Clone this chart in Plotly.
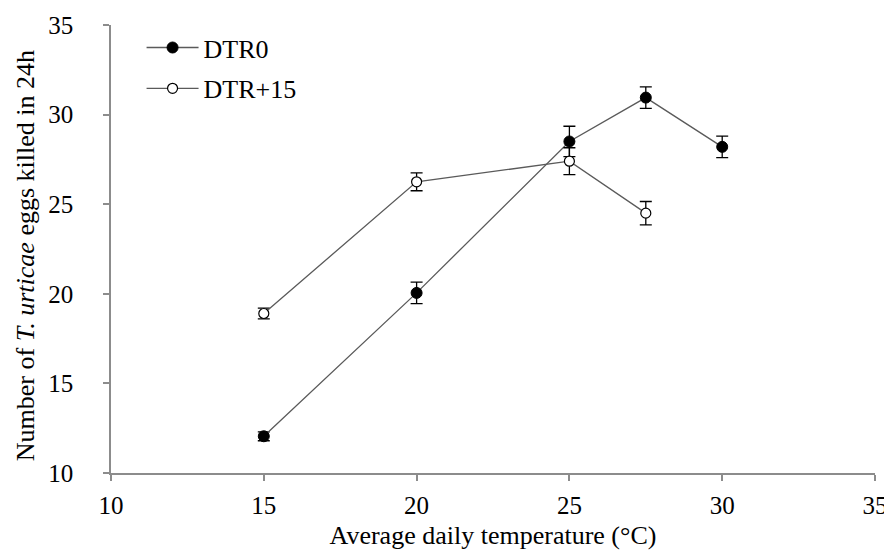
import plotly.graph_objects as go

temps_dtr0 = [15, 20, 25, 27.5, 30]
eggs_dtr0 = [12.05, 20.05, 28.5, 30.95, 28.2]
err_dtr0 = [0.25, 0.6, 0.85, 0.6, 0.6]

temps_dtr15 = [15, 20, 25, 27.5]
eggs_dtr15 = [18.9, 26.25, 27.4, 24.5]
err_dtr15 = [0.3, 0.5, 0.75, 0.65]

x_ticks = [10, 15, 20, 25, 30, 35]
y_ticks = [10, 15, 20, 25, 30, 35]

FONT = "Liberation Serif, Times New Roman, serif"
LINE_COLOR = "#5a5a5a"
AXIS_COLOR = "#8c8c8c"

fig = go.Figure()
fig.add_trace(go.Scatter(
    x=temps_dtr0, y=eggs_dtr0, name="DTR0", legendgroup="a",
    mode="lines+markers",
    line=dict(color=LINE_COLOR, width=1.3),
    marker=dict(symbol="circle", size=11, color="black", line=dict(color="black", width=1)),
    error_y=dict(type="data", array=err_dtr0, visible=True, color="black", thickness=1.3, width=6),
))
fig.add_trace(go.Scatter(
    x=temps_dtr15, y=eggs_dtr15, name="DTR+15", legendgroup="b",
    mode="lines+markers",
    line=dict(color=LINE_COLOR, width=1.3),
    marker=dict(symbol="circle", size=10, color="white", line=dict(color="black", width=1.2)),
    error_y=dict(type="data", array=err_dtr15, visible=True, color="black", thickness=1.3, width=6),
))

# page body has an 8px margin, so the figure is drawn 8px in from the top-left corner
fig.update_layout(
    width=884, height=542,
    margin=dict(l=103, r=17, t=17, b=77),
    paper_bgcolor="white", plot_bgcolor="white",
    font=dict(family=FONT, size=25, color="black"),
    showlegend=True,
    legend=dict(
        x=0.04, y=1.002, xanchor="left", yanchor="top",
        bgcolor="rgba(0,0,0,0)", itemwidth=52,
        traceorder="grouped", tracegroupgap=4,
        font=dict(family=FONT, size=26, color="black"),
    ),
    xaxis=dict(
        range=[10, 35], tickvals=x_ticks, ticktext=[str(v) for v in x_ticks],
        showgrid=False, zeroline=False, automargin=False,
        showline=True, linecolor=AXIS_COLOR, linewidth=1.5,
        ticks="outside", ticklen=6, tickcolor=AXIS_COLOR, tickwidth=1.5,
        tickfont=dict(family=FONT, size=25, color="black"),
        ticklabelstandoff=3,
        title=dict(text="Average daily temperature (°C)", font=dict(family=FONT, size=26), standoff=10),
    ),
    yaxis=dict(
        range=[10, 35], tickvals=y_ticks, ticktext=[str(v) for v in y_ticks],
        showgrid=False, zeroline=False, automargin=False,
        showline=True, linecolor=AXIS_COLOR, linewidth=1.5,
        ticks="outside", ticklen=6, tickcolor=AXIS_COLOR, tickwidth=1.5,
        tickfont=dict(family=FONT, size=25, color="black"),
        ticklabelstandoff=25,
    ),
    annotations=[dict(
        text="Number of <i>T. urticae</i> eggs killed in 24h",
        textangle=-90, xref="paper", yref="paper",
        x=0, y=0.484, xanchor="center", yanchor="middle", xshift=-86,
        showarrow=False, font=dict(family=FONT, size=26, color="black"),
    )],
)

fig.write_html("out.html")
